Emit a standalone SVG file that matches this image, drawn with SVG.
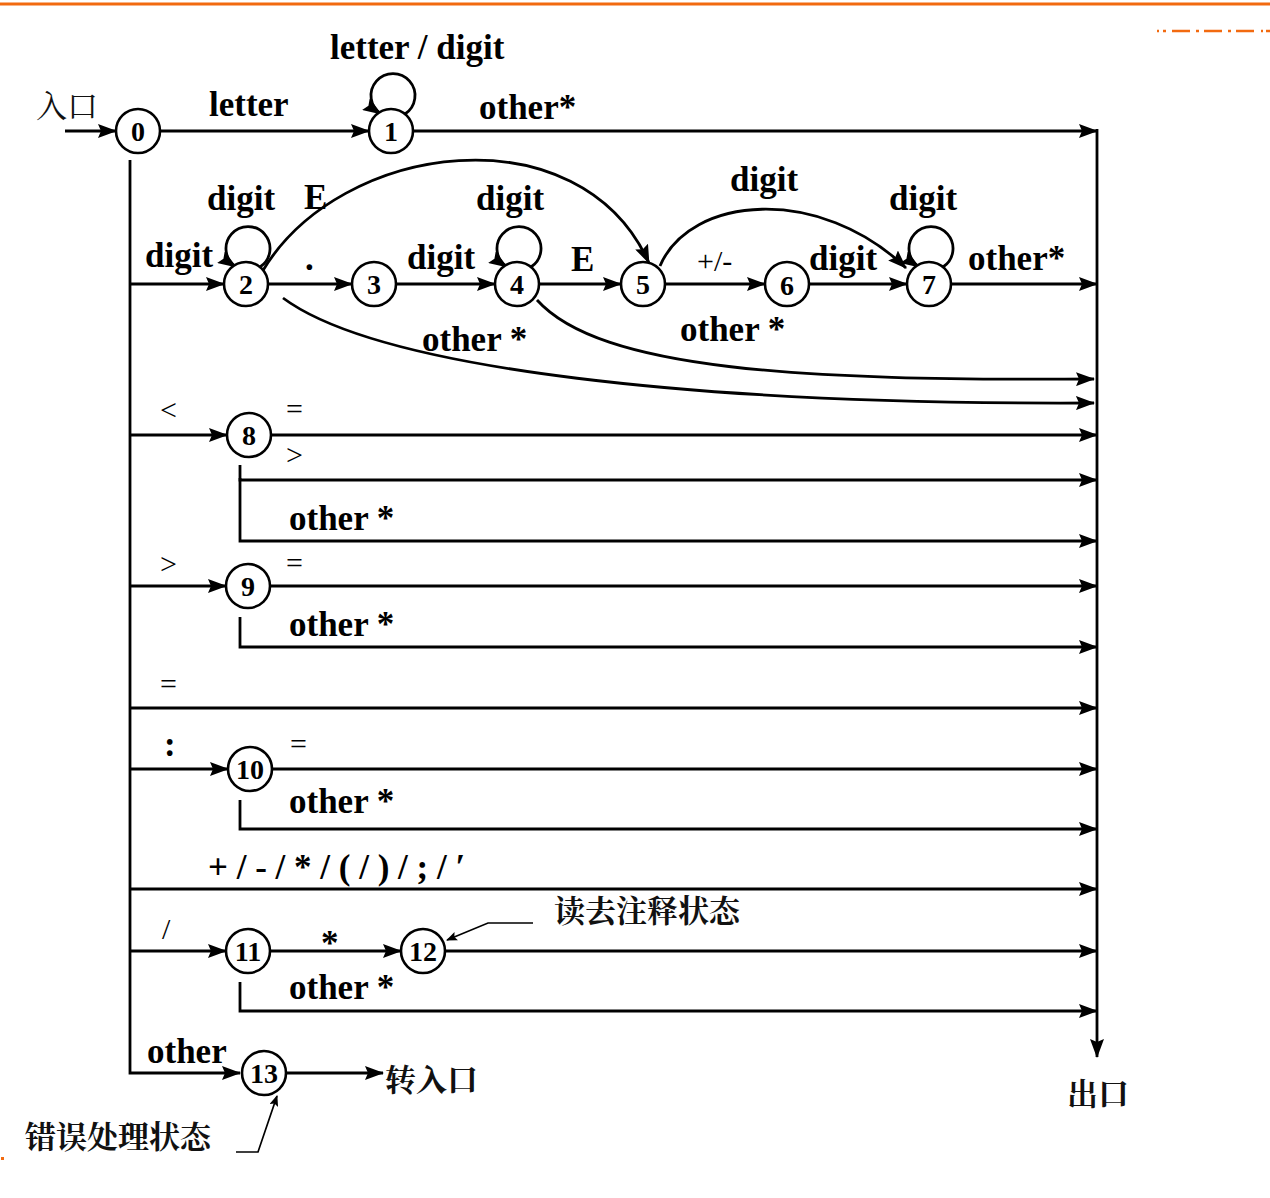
<svg xmlns="http://www.w3.org/2000/svg" width="1270" height="1198" viewBox="0 0 1270 1198">
<style>
.ln{stroke:#000;stroke-width:2.8;fill:none}
.ar{marker-end:url(#ah)}
.nd circle{fill:#fff;stroke:#000;stroke-width:2.6}
.nd text{font-family:"Liberation Serif",serif;font-weight:bold;font-size:28px;text-anchor:middle}
.lb{font-family:"Liberation Serif",serif;font-weight:bold;font-size:35px;fill:#000}
.op{font-family:"Liberation Serif",serif;font-size:30px;fill:#000}
.cj{font-family:"Noto Serif CJK SC","Noto Sans CJK SC",serif;font-size:31px;fill:#111}
.b{font-weight:bold}
.or{stroke:#f26a10;fill:none}
</style>
<defs>
<marker id="ah" markerUnits="userSpaceOnUse" markerWidth="19" markerHeight="14" refX="18" refY="7" orient="auto">
<path d="M0,0 L19,7 L0,14 L3,7 z" fill="#000"/>
</marker>
<marker id="sh" markerUnits="userSpaceOnUse" markerWidth="11" markerHeight="9" refX="10" refY="4.5" orient="auto">
<path d="M0,0 L11,4.5 L0,9 L2,4.5 z" fill="#000"/>
</marker>
</defs>
<rect width="1270" height="1198" fill="#fff"/>
<g id="decor">
<line class="or" x1="0" y1="4" x2="1270" y2="4" stroke-width="3"/>
<path class="or" stroke-width="2.5" d="M1157 31h2M1163 31h3M1172 31h18M1196 31h3M1204 31h18M1228 31h3M1236 31h18M1261 31h2M1266 31h4"/>
<rect x="1" y="1157" width="3" height="3" fill="#f26a10"/>
</g>
<g id="connectors">
<line class="ln ar" x1="65" y1="131" x2="116" y2="131"/>
<line class="ln ar" x1="160" y1="131" x2="369" y2="131"/>
<line class="ln ar" x1="413" y1="131" x2="1097" y2="131"/>
<line class="ln ar" x1="1097" y1="129" x2="1097" y2="1057"/>
<path class="ln" d="M130 160 V1073 H240" marker-end="url(#ah)"/>
<path class="ln ar" d="M405 114 A22 22 0 1 0 381 114"/>
<line class="ln ar" x1="130" y1="284" x2="224" y2="284"/>
<path class="ln ar" d="M260 267 A22 22 0 1 0 236 267"/>
<line class="ln ar" x1="268" y1="284" x2="352" y2="284"/>
<line class="ln ar" x1="396" y1="284" x2="495" y2="284"/>
<path class="ln ar" d="M531 267 A22 22 0 1 0 507 267"/>
<line class="ln ar" x1="539" y1="284" x2="621" y2="284"/>
<line class="ln ar" x1="665" y1="284" x2="765" y2="284"/>
<line class="ln ar" x1="809" y1="284" x2="907" y2="284"/>
<path class="ln ar" d="M943 267 A22 22 0 1 0 919 267"/>
<line class="ln ar" x1="951" y1="284" x2="1097" y2="284"/>
<path class="ln ar" d="M262 272 C340 140 580 110 649 263"/>
<path class="ln ar" d="M660 266 C690 195 820 185 906 268"/>
<path class="ln ar" d="M537 300 C600 370 800 381 1094 379"/>
<path class="ln ar" d="M283 298 C380 370 700 405 1094 403"/>
<line class="ln ar" x1="130" y1="435" x2="227" y2="435"/>
<line class="ln ar" x1="271" y1="435" x2="1097" y2="435"/>
<path class="ln ar" d="M240 465 V480 H1097"/>
<path class="ln ar" d="M240 478 V541 H1097"/>
<line class="ln ar" x1="130" y1="586" x2="226" y2="586"/>
<line class="ln ar" x1="270" y1="586" x2="1097" y2="586"/>
<path class="ln ar" d="M240 617 V647 H1097"/>
<line class="ln ar" x1="130" y1="708" x2="1097" y2="708"/>
<line class="ln ar" x1="130" y1="769" x2="228" y2="769"/>
<line class="ln ar" x1="272" y1="769" x2="1097" y2="769"/>
<path class="ln ar" d="M240 800 V829 H1097"/>
<line class="ln ar" x1="130" y1="889" x2="1097" y2="889"/>
<line class="ln ar" x1="130" y1="951" x2="226" y2="951"/>
<line class="ln ar" x1="270" y1="951" x2="401" y2="951"/>
<line class="ln ar" x1="445" y1="951" x2="1097" y2="951"/>
<path class="ln ar" d="M240 982 V1011 H1097"/>
<line class="ln ar" x1="286" y1="1073" x2="383" y2="1073"/>
<path d="M533 923 H488 L447 940" stroke="#000" stroke-width="1.7" fill="none" marker-end="url(#sh)"/>
<path d="M236 1152 H258 L277 1096" stroke="#000" stroke-width="1.7" fill="none" marker-end="url(#sh)"/>
</g>
<g id="n0" class="nd"><circle cx="138" cy="131" r="22"/><text x="138" y="141">0</text></g>
<g id="n1" class="nd"><circle cx="391" cy="131" r="22"/><text x="391" y="141">1</text></g>
<g id="n2" class="nd"><circle cx="246" cy="284" r="22"/><text x="246" y="294">2</text></g>
<g id="n3" class="nd"><circle cx="374" cy="284" r="22"/><text x="374" y="294">3</text></g>
<g id="n4" class="nd"><circle cx="517" cy="284" r="22"/><text x="517" y="294">4</text></g>
<g id="n5" class="nd"><circle cx="643" cy="284" r="22"/><text x="643" y="294">5</text></g>
<g id="n6" class="nd"><circle cx="787" cy="284" r="22"/><text x="787" y="295">6</text></g>
<g id="n7" class="nd"><circle cx="929" cy="284" r="22"/><text x="929" y="294">7</text></g>
<g id="n8" class="nd"><circle cx="249" cy="435" r="22"/><text x="249" y="445">8</text></g>
<g id="n9" class="nd"><circle cx="248" cy="586" r="22"/><text x="248" y="596">9</text></g>
<g id="n10" class="nd"><circle cx="250" cy="769" r="22"/><text x="250" y="779">10</text></g>
<g id="n11" class="nd"><circle cx="248" cy="951" r="22"/><text x="248" y="961">11</text></g>
<g id="n12" class="nd"><circle cx="423" cy="951" r="22"/><text x="423" y="961">12</text></g>
<g id="n13" class="nd"><circle cx="264" cy="1073" r="22"/><text x="264" y="1083">13</text></g>
<g id="labels">
<text class="cj" x="36" y="117">入口</text>
<text class="lb" x="330" y="59">letter / digit</text>
<text class="lb" x="209" y="116">letter</text>
<text class="lb" x="479" y="119">other*</text>
<text class="lb" x="145" y="267">digit</text>
<text class="lb" x="207" y="210">digit</text>
<text class="lb" x="304" y="209">E</text>
<text class="lb" x="305" y="270">.</text>
<text class="lb" x="407" y="269">digit</text>
<text class="lb" x="476" y="210">digit</text>
<text class="lb" x="571" y="271">E</text>
<text class="op" x="697" y="271">+/-</text>
<text class="lb" x="809" y="270">digit</text>
<text class="lb" x="730" y="191">digit</text>
<text class="lb" x="889" y="210">digit</text>
<text class="lb" x="968" y="270">other*</text>
<text class="lb" x="680" y="341">other *</text>
<text class="lb" x="422" y="351">other *</text>
<text class="op" x="160" y="420">&lt;</text>
<text class="op" x="286" y="419">=</text>
<text class="op" x="286" y="465">&gt;</text>
<text class="lb" x="289" y="530">other *</text>
<text class="op" x="160" y="574">&gt;</text>
<text class="op" x="286" y="573">=</text>
<text class="lb" x="289" y="636">other *</text>
<text class="op" x="160" y="694">=</text>
<text class="lb" x="164" y="756">:</text>
<text class="op" x="290" y="754">=</text>
<text class="lb" x="289" y="813">other *</text>
<text class="lb" x="208" y="879">+ / - / * / ( / ) / ; / ′</text>
<text class="op" x="162" y="939">/</text>
<text class="lb" x="321" y="955">*</text>
<text class="cj b" x="554" y="922">读去注释状态</text>
<text class="lb" x="289" y="999">other *</text>
<text class="lb" x="147" y="1063">other</text>
<text class="cj b" x="385" y="1091">转入口</text>
<text class="cj b" x="25" y="1148">错误处理状态</text>
<text class="cj b" x="1067" y="1105">出口</text>
</g>
</svg>
